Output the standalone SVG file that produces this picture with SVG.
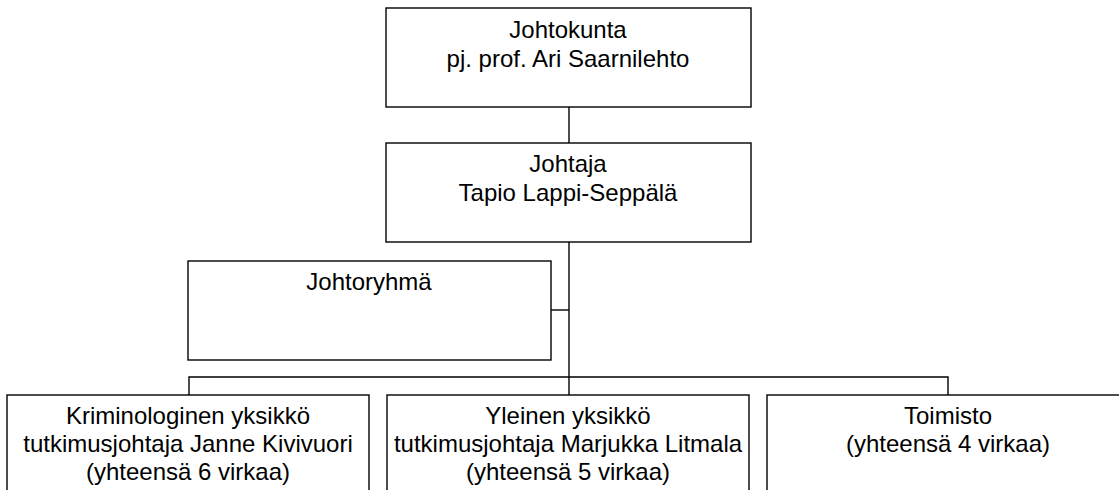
<svg xmlns="http://www.w3.org/2000/svg" width="1119" height="490" viewBox="0 0 1119 490">
<style>
.box{fill:#fff;stroke:#000;stroke-width:1.4}
.ln{stroke:#000;stroke-width:1.4;fill:none}
text{font-family:"Liberation Sans",Arial,sans-serif;font-size:24px;fill:#000;text-anchor:middle}
</style>
<rect width="1119" height="490" fill="#fff"/>
<g id="connectors">
<line class="ln" x1="569" y1="107" x2="569" y2="143"/>
<line class="ln" x1="569" y1="242" x2="569" y2="395"/>
<line class="ln" x1="551" y1="310" x2="569" y2="310"/>
<polyline class="ln" points="189,395 189,377 948,377 948,395"/>
</g>
<g id="johtokunta">
<rect class="box" x="386" y="8" width="365" height="99"/>
<text x="568" y="38">Johtokunta</text>
<text x="568" y="67">pj. prof. Ari Saarnilehto</text>
</g>
<g id="johtaja">
<rect class="box" x="386" y="143" width="365" height="99"/>
<text x="568" y="172">Johtaja</text>
<text x="568" y="201">Tapio Lappi-Seppälä</text>
</g>
<g id="johtoryhma">
<rect class="box" x="188" y="261" width="363" height="99"/>
<text x="369" y="290">Johtoryhmä</text>
</g>
<g id="kriminologinen">
<rect class="box" x="7" y="395" width="362" height="110"/>
<text x="188" y="424">Kriminologinen yksikkö</text>
<text x="188" y="452">tutkimusjohtaja Janne Kivivuori</text>
<text x="188" y="480">(yhteensä 6 virkaa)</text>
</g>
<g id="yleinen">
<rect class="box" x="387" y="395" width="362" height="110"/>
<text x="568" y="424">Yleinen yksikkö</text>
<text x="568" y="452">tutkimusjohtaja Marjukka Litmala</text>
<text x="568" y="480">(yhteensä 5 virkaa)</text>
</g>
<g id="toimisto">
<rect class="box" x="767" y="395" width="362" height="110"/>
<text x="948" y="424">Toimisto</text>
<text x="948" y="452">(yhteensä 4 virkaa)</text>
</g>
</svg>
